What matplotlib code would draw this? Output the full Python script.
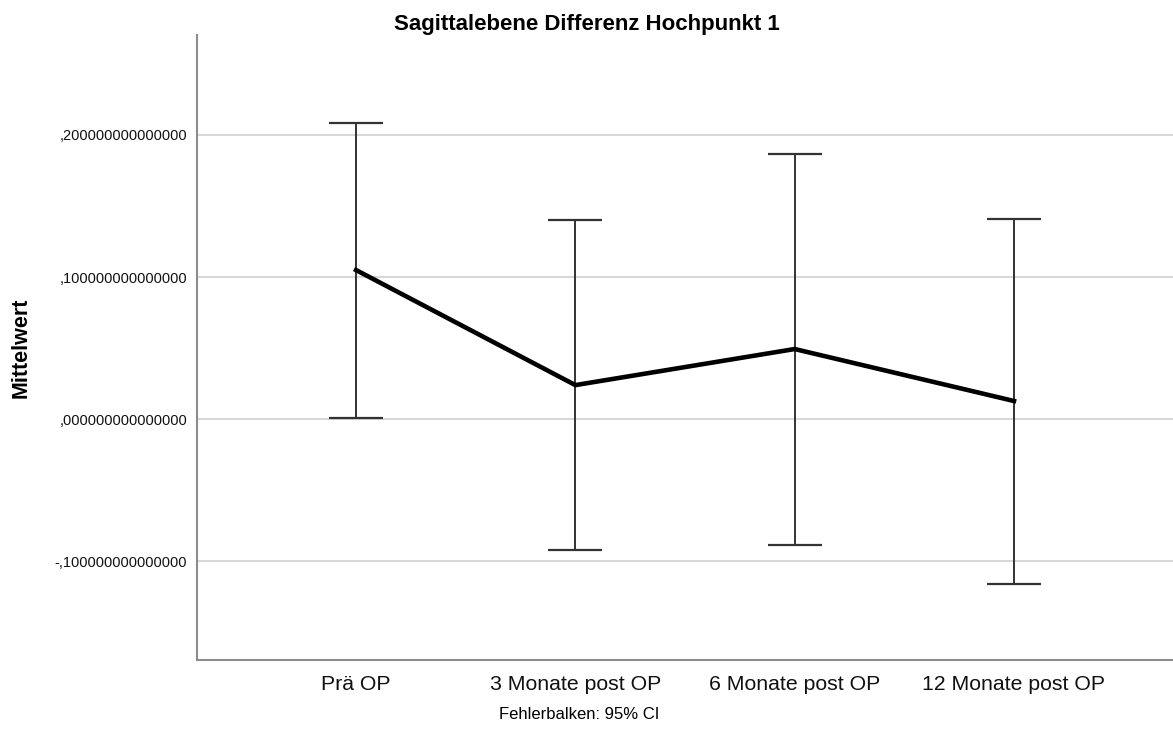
import matplotlib
matplotlib.use('Agg')
import matplotlib.pyplot as plt
import numpy as np

plt.rcParams['font.family'] = ['Liberation Sans', 'DejaVu Sans']

# data
groups = ['Prä OP', '3 Monate post OP', '6 Monate post OP', '12 Monate post OP']
means = [0.1049, 0.0239, 0.0493, 0.0127]
ci_upper = [0.2087, 0.1400, 0.1866, 0.1408]
ci_lower = [0.0009, -0.0923, -0.0887, -0.1162]
yticks = [-0.1, 0.0, 0.1, 0.2]
ytick_labels = ['-,100000000000000', ',000000000000000',
                ',100000000000000', ',200000000000000']


def main():
    fig = plt.figure(figsize=(11.73, 7.40), dpi=100)
    ax = fig.add_axes([0.168, 0.108, 0.832, 0.8447])

    x = np.arange(len(groups))
    means_a = np.array(means)
    err = [means_a - np.array(ci_lower), np.array(ci_upper) - means_a]

    ax.errorbar(x, means, yerr=err, fmt='none', ecolor='#333333',
                elinewidth=1.4, capsize=19.5, capthick=1.6, zorder=3)
    ax.plot(x, means, color='black', linewidth=3.3, zorder=4,
            solid_joinstyle='miter')

    ax.set_xlim(-0.725, 3.725)
    ax.set_ylim(-0.1697, 0.2704)

    ax.set_yticks(yticks)
    ax.set_yticklabels(ytick_labels, fontsize=10.5)
    ax.set_xticks(x)
    ax.set_xticklabels(groups, fontsize=15.3)
    ax.tick_params(axis='y', length=0, pad=7, colors='#111111')
    ax.tick_params(axis='x', length=0, pad=11, colors='#111111')

    ax.yaxis.grid(True, color='#d3d3d3', linewidth=1.3)
    ax.set_axisbelow(True)
    for side in ['top', 'right']:
        ax.spines[side].set_visible(False)
    for side in ['left', 'bottom']:
        ax.spines[side].set_color('#8c8c8c')
        ax.spines[side].set_linewidth(1.5)

    ax.set_ylabel('Mittelwert', fontsize=15.5, fontweight='bold', labelpad=10)
    ax.yaxis.set_label_coords(-0.17, 0.5)

    fig.text(0.5, 0.953, 'Sagittalebene Differenz Hochpunkt 1', ha='center',
             va='bottom', fontsize=16, fontweight='bold')
    fig.text(0.494, 0.034, 'Fehlerbalken: 95% CI', ha='center', va='center',
             fontsize=12)

    fig.savefig('out.png', dpi=100)


if __name__ == '__main__':
    main()
